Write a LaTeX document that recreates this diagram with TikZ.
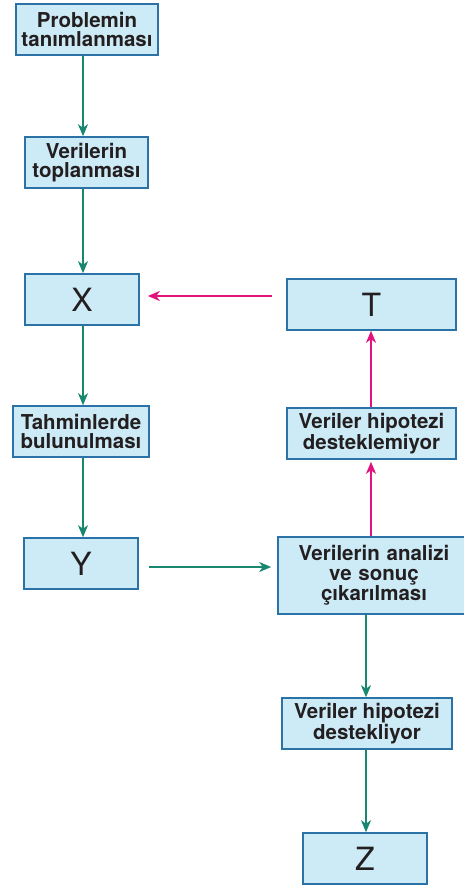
\documentclass[tikz,border=0pt]{standalone}
\usepackage{fontspec}
\setmainfont{TeX Gyre Heros}
\usetikzlibrary{arrows.meta}
\definecolor{boxfill}{HTML}{CDEBF7}
\definecolor{boxline}{HTML}{2B73A6}
\definecolor{agreen}{HTML}{17876F}
\definecolor{amag}{HTML}{E2137F}
\definecolor{txt}{HTML}{231F20}
\tikzset{
  box/.style={draw=boxline, fill=boxfill, line width=1.6pt, inner sep=0pt,
    align=center, text=txt, font=\fontsize{20.5}{19.5}\selectfont\bfseries,
    minimum height=51pt},
  bigbox/.style={box, font=\fontsize{32}{32}\selectfont},
  ga/.style={draw=agreen, line width=1.5pt, -{Stealth[length=12pt,width=10pt,inset=3.5pt]}},
  ma/.style={draw=amag, line width=1.5pt, -{Stealth[length=12pt,width=10pt,inset=3.5pt]}},
}
\begin{document}
\begin{tikzpicture}[x=1pt,y=-1pt]
\useasboundingbox (0,0) rectangle (463,885);
\node[box, minimum width=142pt] (b1) at (87,29.5) {Problemin\\tanımlanması};
\node[box, minimum width=123pt] (b2) at (86.5,162.5) {Verilerin\\toplanması};
\node[bigbox, minimum width=114pt] (bx) at (82,299.5) {X};
\node[bigbox, minimum width=169pt] (bt) at (371.5,304.5) {T};
\node[box, minimum width=136pt] (b3) at (81,431.5) {Tahminlerde\\bulunulması};
\node[box, minimum width=169pt] (b4) at (371.5,433.5) {Veriler hipotezi\\desteklemiyor};
\node[bigbox, minimum width=114pt] (by) at (81,563.5) {Y};
\node[box, minimum width=192pt, minimum height=77pt, text width=184pt] (b5) at (374,575.5) {Verilerin analizi\\ve sonuç\\çıkarılması};
\node[box, minimum width=170pt] (b6) at (367,723.5) {Veriler hipotezi\\destekliyor};
\node[bigbox, minimum width=124pt] (bz) at (365,858.5) {Z};
\coordinate (cl) at (83,0);
\coordinate (cr) at (366,0);
\coordinate (cm) at (371,0);
\coordinate (h1) at (0,296);
\coordinate (h2) at (0,567);
\draw[ga] (b1.south -| cl) -- (b2.north -| cl);
\draw[ga] (b2.south -| cl) -- (bx.north -| cl);
\draw[ga] (bx.south -| cl) -- (b3.north -| cl);
\draw[ga] (b3.south -| cl) -- (by.north -| cl);
\draw[ga, shorten <=10pt, shorten >=6pt] (by.east |- h2) -- (b5.west |- h2);
\draw[ga] (b5.south -| cr) -- (b6.north -| cr);
\draw[ga] (b6.south -| cr) -- (bz.north -| cr);
\draw[ma, shorten >=2pt] (b5.north -| cm) -- (b4.south -| cm);
\draw[ma] (b4.north -| cm) -- (bt.south -| cm);
\draw[ma, shorten <=14pt, shorten >=8pt] (bt.west |- h1) -- (bx.east |- h1);
\end{tikzpicture}
\end{document}
